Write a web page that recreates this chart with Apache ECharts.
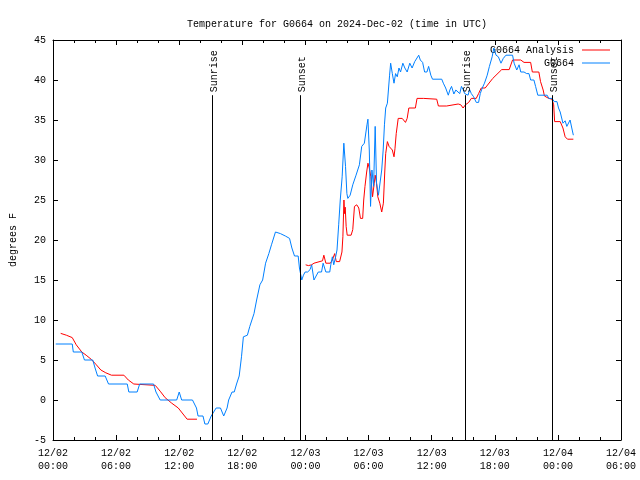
<!DOCTYPE html>
<html>
<head>
<meta charset="utf-8">
<script src="https://cdn.jsdelivr.net/npm/echarts@6/dist/echarts.min.js"></script>
<style>html,body{margin:0;padding:0;background:#fff}#c{width:640px;height:480px}</style>
</head>
<body>
<div id="c"></div>
<script>
// hours since 12/02 00:00 UTC, temperature in degrees F
var titleText = 'Temperature for G0664 on 2024-Dec-02 (time in UTC)';
var yAxisName = 'degrees F';
var xTickLabels = ['12/02\n00:00','12/02\n06:00','12/02\n12:00','12/02\n18:00','12/03\n00:00','12/03\n06:00','12/03\n12:00','12/03\n18:00','12/04\n00:00','12/04\n06:00'];
var analysisName = 'G0664 Analysis';
var obsName = 'G0664';

var analysisSeries = [
[0.73,8.33],[1.27,8.1],[1.83,7.8],[2.21,6.9],[2.74,6.0],[3.15,5.6],[3.62,5.1],[4.08,4.46],[4.55,3.75],[5.02,3.4],
[5.56,3.1],[6.74,3.1],[7.16,2.5],[7.68,2.0],[9.72,1.83],[10.19,1.1],[10.66,0.29],[11.29,-0.4],[11.91,-1.0],[12.75,-2.4],
[13.69,-2.4],[18.0,null],
[24.02,16.9],[24.28,16.8],[24.59,16.9],[24.81,17.1],[24.96,17.3],[25.62,17.4],[25.75,18.1],[25.94,17.1],[26.37,17.1],[26.56,17.5],
[26.78,18.3],[26.93,17.3],[27.25,17.3],[27.47,18.5],[27.56,20.4],[27.66,25],[27.72,23.3],[27.78,24.1],[27.87,21.7],[27.97,20.6],
[28.34,20.6],[28.5,21.3],[28.66,24.2],[28.88,24.4],[29.07,24.0],[29.23,22.7],[29.44,22.7],[29.54,25],[29.66,26.7],[29.82,28.5],
[29.94,29.6],[30.07,29.0],[30.22,27.9],[30.38,25.4],[30.54,27.1],[30.63,28.1],[30.76,27.1],[30.88,25.4],[31.07,24.6],[31.25,23.5],
[31.41,24.6],[31.54,28.5],[31.63,30.8],[31.79,32.3],[31.95,31.7],[32.1,31.9],[32.26,31.25],[32.42,30.4],[32.51,31.4],[32.63,33.3],
[32.82,35.2],[33.2,35.2],[33.36,35.0],[33.51,34.7],[33.67,35.2],[33.83,36.5],[34.45,36.5],[34.61,37.7],[35.24,37.7],[36.48,37.6],
[36.64,36.75],[37.42,36.75],[37.58,37.0],[38.52,37.0],[38.77,36.9],[38.99,36.5],[39.21,36.9],[39.52,37.2],[39.77,37.7],[40.24,37.7],
[40.46,38.3],[40.71,39.0],[41.09,39.0],[41.81,40.2],[42.66,41.3],[43.37,41.3],[43.69,42.5],[44.47,42.5],[44.78,42.2],[45.41,42.2],
[45.57,41.0],[46.19,41.0],[46.35,39.8],[46.6,38.75],[46.72,38.0],[47.13,37.7],[47.44,37.6],[47.6,36.9],[47.69,34.8],[48.22,34.8],
[48.48,34.0],[48.69,32.9],[48.91,32.6],[49.47,32.6]
];

var obsSeries = [
[0.26,7],[1.83,7],[1.93,6],[2.74,6],[2.99,5],[3.78,5],[4.0,4],[4.24,3],[4.96,3],[5.28,2],
[7.06,2],[7.21,1],[8.0,1],[8.24,2],[9.56,2],[9.79,1],[10.19,0],[11.76,0],[12.0,1],[12.23,0],
[13.26,0],[13.64,-1],[13.79,-2],[14.26,-2],[14.44,-3],[14.72,-3],[15.04,-2],[15.51,-1],[15.92,-1],[16.23,-2],
[16.55,-1],[16.7,0],[17.02,1],[17.23,1],[17.45,2],[17.7,3],[17.92,5.4],[18.1,7.9],[18.48,8.1],[18.71,9.2],
[19.11,10.8],[19.36,12.5],[19.67,14.4],[19.93,15],[20.21,17.1],[20.52,18.3],[20.77,19.4],[21.15,21.0],[21.62,20.8],[22.09,20.5],
[22.49,20.2],[22.71,19.0],[22.96,18.0],[23.31,18.0],[23.43,16.5],[23.65,15],[23.81,15.6],[23.97,16.0],[24.21,16.0],[24.44,16.3],
[24.59,16.9],[24.81,15],[25.0,15],[25.22,16],[25.53,16],[25.68,17.1],[25.94,16],[26.31,16],[26.41,16.9],[26.56,17.9],
[26.69,16.9],[26.87,17.9],[27.0,18.75],[27.16,21.9],[27.31,25],[27.49,27.9],[27.65,32.1],[27.81,29.2],[27.94,25.8],[28.03,25.2],
[28.25,25.6],[28.5,26.9],[28.81,28.1],[29.13,29.4],[29.35,31.7],[29.6,32.1],[29.75,32.1],[29.85,34.4],[29.94,35.1],[30.07,31.25],
[30.19,24.2],[30.32,28.75],[30.48,26.7],[30.63,34.2],[30.76,27.1],[30.94,25.6],[31.1,25.6],[31.25,28.75],[31.39,31.25],[31.51,34.4],
[31.63,36.5],[31.79,37.1],[32.0,40.6],[32.1,42.1],[32.26,40.8],[32.42,39.6],[32.57,40.8],[32.73,40.4],[32.89,41.5],[33.04,41.0],
[33.26,42.1],[33.45,41.5],[33.67,41.0],[33.92,42.1],[34.14,41.5],[34.39,42.3],[34.77,43.1],[34.92,42.5],[35.14,42.2],[35.33,41.0],
[35.55,41.0],[35.71,41.7],[35.92,40.6],[36.08,40.1],[36.96,40.1],[37.11,39.6],[37.33,39.0],[37.58,38.1],[37.73,38.75],[37.89,39.2],
[38.11,38.25],[38.3,38.75],[38.46,38.75],[38.67,38.3],[38.83,39.2],[38.99,38.8],[39.14,38.3],[39.46,38.1],[39.61,38.8],[39.77,38.3],
[39.99,37.9],[40.24,37.2],[40.46,37.2],[40.62,38.3],[40.81,39.0],[41.02,39.6],[41.28,40.6],[41.49,41.7],[41.75,42.9],[41.91,44],
[42.12,43.1],[42.34,42.9],[42.59,42.1],[42.81,42.7],[43.06,43.1],[43.69,43.1],[43.84,42.1],[44.09,41.25],[44.31,41.9],[44.47,41.0],
[44.78,41.0],[45.03,40.8],[45.25,40.8],[45.41,40],[45.72,40],[45.88,39.2],[46.09,38.1],[46.98,38.1],[47.13,37.7],[47.44,37.7],
[47.66,37.3],[47.91,37.3],[48.06,36.5],[48.22,36.0],[48.48,34.6],[48.69,34.9],[48.85,34.2],[49.0,34.2],[49.16,35],[49.32,34.0],
[49.47,33.1]
];

var eventHours = [15.11, 23.47, 39.16, 47.44];
var eventNames = ['Sunrise', 'Sunset', 'Sunrise', 'Sunset'];
var eventTop = 38.1;

var FONT = 'Liberation Mono, DejaVu Sans Mono, monospace';
var chart = echarts.init(document.getElementById('c'), null, {renderer: 'canvas'});

var eventData = eventHours.map(function (h, i) { return [h, eventTop, eventNames[i]]; });

function mkX(pos, labels) {
  return {
    type: 'value', position: pos, min: 0, max: 54, interval: 6,
    axisLine: {show: true, onZero: false, lineStyle: {color: '#000', width: 1}},
    axisTick: {show: true, inside: true, length: 5, lineStyle: {color: '#000'}},
    minorTick: {show: true, splitNumber: 3, length: 3, lineStyle: {color: '#000'}},
    splitLine: {show: false},
    axisLabel: {show: labels, margin: 7, color: '#000', fontFamily: FONT, fontSize: 10, lineHeight: 13,
      formatter: function (v) { return xTickLabels[Math.round(v / 6)]; }}
  };
}
function mkY(pos, labels) {
  return {
    type: 'value', position: pos, min: -5, max: 45, interval: 5,
    name: labels ? yAxisName : '', nameLocation: 'middle', nameGap: 35, nameRotate: 90,
    nameTextStyle: {color: '#000', fontFamily: FONT, fontSize: 10},
    axisLine: {show: true, onZero: false, lineStyle: {color: '#000', width: 1}},
    axisTick: {show: true, inside: true, length: 5, lineStyle: {color: '#000'}},
    splitLine: {show: false},
    axisLabel: {show: labels, margin: 7, color: '#000', fontFamily: FONT, fontSize: 10}
  };
}

chart.setOption({
  animation: false,
  backgroundColor: '#fff',
  title: {text: titleText, left: 182, top: 14,
    textStyle: {fontFamily: FONT, fontSize: 10, fontWeight: 'normal', color: '#000'}},
  grid: {left: 47, right: 19, top: 40, bottom: 40, containLabel: false},
  legend: [
    {data: [analysisName], right: 30, top: 45, align: 'right', icon: 'rect', itemWidth: 28, itemHeight: 1,
      selectedMode: false, padding: 0, textStyle: {fontFamily: FONT, fontSize: 10, color: '#000', padding: [0, 3, 0, 0]}},
    {data: [obsName], right: 30, top: 58, align: 'right', icon: 'rect', itemWidth: 28, itemHeight: 1,
      selectedMode: false, padding: 0, textStyle: {fontFamily: FONT, fontSize: 10, color: '#000', padding: [0, 3, 0, 0]}}
  ],
  xAxis: [mkX('bottom', true), mkX('top', false)],
  yAxis: [mkY('left', true), mkY('right', false)],
  series: [
    {name: analysisName, type: 'line', data: analysisSeries, showSymbol: false, symbol: 'none',
      connectNulls: false, lineStyle: {color: '#ff0000', width: 1}, itemStyle: {color: '#ff0000'}, z: 3},
    {name: obsName, type: 'line', data: obsSeries, showSymbol: false, symbol: 'none',
      lineStyle: {color: '#0080ff', width: 1}, itemStyle: {color: '#0080ff'}, z: 4},
    {type: 'custom', data: eventData, z: 5, silent: true,
      encode: {x: 0, y: 1},
      renderItem: function (params, api) {
        var h = api.value(0);
        var p0 = api.coord([h, -5]);
        var p1 = api.coord([h, api.value(1)]);
        var x = Math.round(p0[0]) + 0.5;
        return {type: 'group', children: [
          {type: 'line', shape: {x1: x, y1: p0[1], x2: x, y2: p1[1]}, style: {stroke: '#000', lineWidth: 1}},
          {type: 'text', x: x + 1.5, y: p1[1] - 3, rotation: Math.PI / 2,
            style: {text: eventNames[params.dataIndex], fill: '#000', font: '10px ' + FONT, align: 'left', verticalAlign: 'middle'}}
        ]};
      }}
  ]
});
</script>
</body>
</html>
